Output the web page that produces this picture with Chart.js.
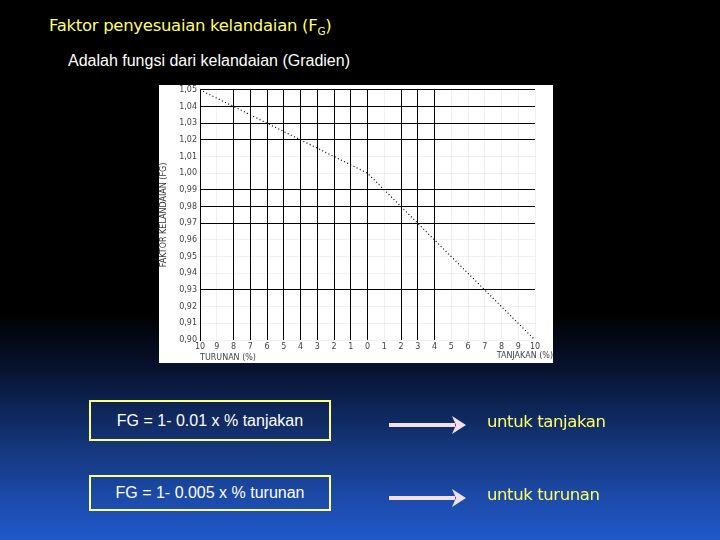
<!DOCTYPE html>
<html>
<head>
<meta charset="utf-8">
<script src="https://cdn.jsdelivr.net/npm/chart.js"></script>
<style>
  html,body{margin:0;padding:0;}
  body{width:720px;height:540px;overflow:hidden;position:relative;
    background:linear-gradient(to bottom,#000 0%,#000 58%,#07122e 68%,#12306e 80%,#1c4aa8 92%,#2058cc 100%);
    font-family:"Liberation Sans",Arial,sans-serif;}
  .title{position:absolute;left:49px;top:16px;color:#ffff66;font-family:"DejaVu Sans",Verdana,sans-serif;font-size:16.5px;letter-spacing:-0.3px;}
  .title sub{font-size:10.5px;}
  .sub{position:absolute;left:68px;top:52px;color:#fff;font-size:16px;}
  #panel{position:absolute;left:159px;top:85px;width:394px;height:278px;background:#fff;}
  #c{position:absolute;left:0;top:-3px;}
  .box{position:absolute;left:89px;width:242px;border:2px solid #ffff80;color:#fff;font-size:16px;text-align:center;box-sizing:border-box;}
  .lab{position:absolute;left:487px;color:#ffff66;font-family:"DejaVu Sans",Verdana,sans-serif;font-size:16.5px;letter-spacing:-0.4px;}
  svg{position:absolute;left:0;top:0;}
</style>
</head>
<body>
<div class="title">Faktor penyesuaian kelandaian (F<sub>G</sub>)</div>
<div class="sub">Adalah fungsi dari kelandaian (Gradien)</div>
<div id="panel"><canvas id="c" width="394" height="281"></canvas></div>
<div class="box" style="top:400px;height:41px;line-height:37px;">FG = 1- 0.01 x % tanjakan</div>
<div class="box" style="top:475px;height:36px;line-height:32px;">FG = 1- 0.005 x % turunan</div>
<svg width="720" height="540">
  <g fill="#f2dfe8" stroke="none">
    <rect x="389" y="423" width="66" height="4"/>
    <polygon points="452,416 466,425 452,434 456,425"/>
    <rect x="389" y="496" width="66" height="4"/>
    <polygon points="452,489 466,498 452,507 456,498"/>
  </g>
</svg>
<div class="lab" style="top:412px;">untuk tanjakan</div>
<div class="lab" style="top:485px;">untuk turunan</div>
<script>
// Data
const gradeValues = [-10, 0, 10];          // negative = turunan (%), positive = tanjakan (%)
const factorValues = [1.05, 1.00, 0.90];   // FG
const xTickLabels = ['10','9','8','7','6','5','4','3','2','1','0','1','2','3','4','5','6','7','8','9','10'];
const yTickLabels = ['0,90','0,91','0,92','0,93','0,94','0,95','0,96','0,97','0,98','0,99','1,00','1,01','1,02','1,03','1,04','1,05'];
const strongX = [-8,-7,-6,-5,-4,-3,-2,-1,0,2,3,4];
const strongY = [1.05,1.04,1.03,1.02,0.99,0.98,0.97,0.93];

const pts = gradeValues.map((g,i)=>({x:g,y:factorValues[i]}));
const near = (arr,v)=>arr.some(a=>Math.abs(a-v)<1e-6);

const extraTitle = {
  id:'extraTitle',
  afterDraw(chart){
    const ctx = chart.ctx, xs = chart.scales.x;
    ctx.save();
    ctx.font = '8px "DejaVu Sans"';
    ctx.fillStyle = '#444';
    ctx.textAlign = 'right';
    ctx.textBaseline = 'middle';
    ctx.fillText('TANJAKAN (%)', xs.getPixelForValue(10) + 18, 274);
    ctx.restore();
  }
};

new Chart(document.getElementById('c'), {
  type:'scatter',
  data:{datasets:[{
    data:pts, showLine:true, borderColor:'#000', borderWidth:1.2, borderDash:[1,2.5],
    pointRadius:0, fill:false
  }]},
  options:{
    responsive:false, animation:false,
    plugins:{legend:{display:false}, tooltip:{enabled:false}},
    layout:{padding:{top:0,right:18,left:0,bottom:0}},
    scales:{
      x:{type:'linear',min:-10,max:10,
        afterFit(s){s.height=23;},
        ticks:{stepSize:1,autoSkip:false,maxRotation:0,padding:2,color:'#444',
          font:{family:'DejaVu Sans',size:8},
          callback:(v,i)=>xTickLabels[i]},
        grid:{drawTicks:false,
          color:c=>near(strongX,c.tick.value)?'#000':'rgba(0,0,0,0.06)',
          lineWidth:1},
        border:{display:false},
        title:{display:true,text:'TURUNAN (%)',align:'start',color:'#444',
          font:{family:'DejaVu Sans',size:8},padding:{top:0,bottom:0}}
      },
      y:{type:'linear',min:0.90,max:1.05,
        afterFit(s){s.width=41;},
        ticks:{stepSize:0.01,autoSkip:false,padding:3,color:'#444',
          font:{family:'DejaVu Sans',size:8},
          callback:(v,i)=>yTickLabels[i]},
        grid:{drawTicks:false,
          color:c=>near(strongY,c.tick.value)?'#000':'rgba(0,0,0,0.06)',
          lineWidth:1},
        border:{display:true,color:'#000',width:1},
        title:{display:true,text:'FAKTOR KELANDAIAN (FG)',color:'#333',
          font:{family:'DejaVu Sans',size:8},padding:{top:0,bottom:0}}
      }
    }
  },
  plugins:[extraTitle]
});
</script>
</body>
</html>
